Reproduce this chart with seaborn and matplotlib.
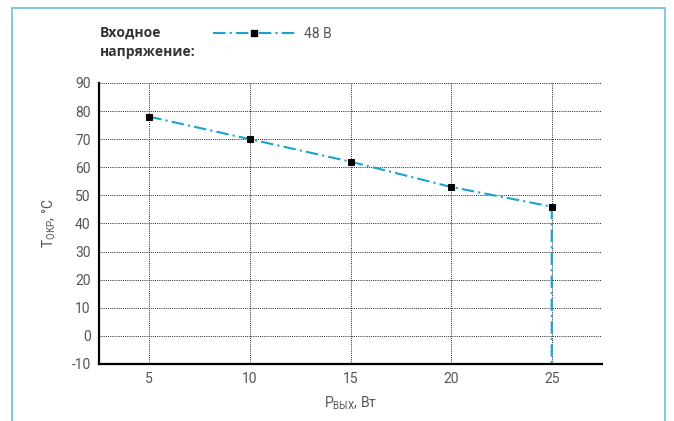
import numpy as np
import pandas as pd
import matplotlib
matplotlib.use("Agg")
import matplotlib.pyplot as plt
import seaborn as sns
from matplotlib.lines import Line2D

# data
p_out = [5, 10, 15, 20, 25, 25]
t_amb = [78, 70, 62, 53, 46, -10]
series_label = "48 В"
x_ticks = [5, 10, 15, 20, 25]
y_ticks = list(range(-10, 91, 10))

LINE_COLOR = "#1aa3cf"
TEXT_COLOR = "#555555"

sns.set_theme(style="white")
plt.rcParams["font.family"] = ["Roboto", "DejaVu Sans"]
plt.rcParams["axes.unicode_minus"] = False
plt.rcParams["mathtext.fontset"] = "custom"
plt.rcParams["mathtext.rm"] = "Roboto"

df = pd.DataFrame({"p": p_out, "t": t_amb})

fig = plt.figure(figsize=(6.74, 4.21), dpi=100)
ax = fig.add_axes([0.1469, 0.1354, 0.8932 - 0.1469, 0.8029 - 0.1354])

line_style = (0, (6, 2, 1, 2))
sns.lineplot(data=df, x="p", y="t", ax=ax, color=LINE_COLOR, lw=1.5,
             linestyle=line_style, sort=False, estimator=None,
             marker="s", markersize=5, markerfacecolor="black",
             markeredgecolor="black", markevery=list(range(5)), zorder=3)

ax.set_xlim(2.5, 27.5)
ax.set_ylim(-10, 90)
ax.set_xticks(x_ticks)
ax.set_yticks(y_ticks)
ax.grid(True, color="#222222", linestyle=(0, (1, 1.2)), linewidth=0.7)
ax.tick_params(length=0, labelsize=10, labelcolor=TEXT_COLOR, pad=6)
for s in ["top", "right"]:
    ax.spines[s].set_visible(False)
for s in ["left", "bottom"]:
    ax.spines[s].set_color("black")
    ax.spines[s].set_linewidth(1.6)

ax.set_xlabel(r"P$_{\mathregular{ВЫХ}}$, Вт", fontsize=10, color=TEXT_COLOR, labelpad=6)
ax.set_ylabel(r"T$_{\mathregular{ОКР}}$, °C", fontsize=10, color=TEXT_COLOR, labelpad=10)

# legend block on top
fig.text(0.148, 0.899, "Входное\nнапряжение:", fontsize=10, fontweight="bold",
         color="#333333", ha="left", va="center", linespacing=1.45,
         family=["Open Sans", "DejaVu Sans"])
handle = Line2D([], [], color=LINE_COLOR, lw=1.5, linestyle=line_style,
                marker="s", markersize=5, markerfacecolor="black",
                markeredgecolor="black")
fig.legend([handle], [series_label], loc="center left",
           bbox_to_anchor=(0.298, 0.919), frameon=False, handlelength=5.9,
           handletextpad=0.6, fontsize=10, labelcolor=TEXT_COLOR)

# light blue frame around the figure (open at the bottom)
frame_kw = dict(color="#6bbfdc", lw=1.2, transform=fig.transFigure)
fig.add_artist(Line2D([12 / 674, 12 / 674], [0, 1 - 8 / 421], **frame_kw))
fig.add_artist(Line2D([12 / 674, 665 / 674], [1 - 8 / 421, 1 - 8 / 421], **frame_kw))
fig.add_artist(Line2D([665 / 674, 665 / 674], [0, 1 - 8 / 421], **frame_kw))

fig.savefig("out.png", dpi=100)
